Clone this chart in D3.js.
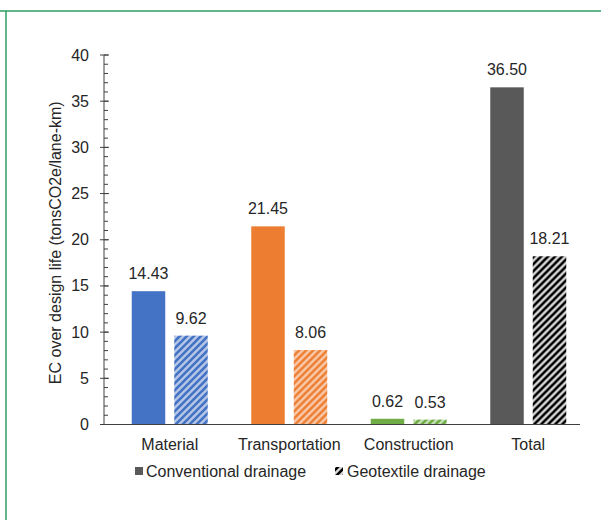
<!DOCTYPE html>
<html>
<head>
<meta charset="utf-8">
<script src="https://cdn.jsdelivr.net/npm/d3@7"></script>
<style>
    body { margin: 0; background: #fff; }
    text { font-family: "Liberation Sans", Arial, sans-serif; fill: #262626; }
</style>
</head>
<body>
<div id="chartDiv"></div>
<script>
"use strict";

// chart data
var categories = ["Material", "Transportation", "Construction", "Total"];
var seriesNames = ["Conventional drainage", "Geotextile drainage"];
var conventional = [14.43, 21.45, 0.62, 36.50];
var geotextile = [9.62, 8.06, 0.53, 18.21];
var yTicks = [0, 5, 10, 15, 20, 25, 30, 35, 40];

// colours per category: solid colour, light hatch background
var solidColors = ["#4472c4", "#ed7d31", "#70ad47", "#595959"];
var lightColors = ["#b4c7e7", "#f8cbad", "#c5e0b4", "#d9d9d9"];
var stripeColors = ["#4472c4", "#ed7d31", "#70ad47", "#000000"];

// svg parameters
var svgWidth = 601;
var svgHeight = 520;
var fontSize = 16;

var svg = d3.select("#chartDiv").append("svg")
    .attr("width", svgWidth).attr("height", svgHeight);

// green frame lines
svg.append("line").attr("x1", 0).attr("x2", svgWidth).attr("y1", 11).attr("y2", 11)
    .attr("stroke", "#2f9e62").attr("stroke-width", 1.5);
svg.append("line").attr("x1", 6).attr("x2", 6).attr("y1", 11).attr("y2", svgHeight)
    .attr("stroke", "#2f9e62").attr("stroke-width", 1.5);

// hatch patterns
var defs = svg.append("defs");
stripeColors.forEach(function (c, i) {
    var p = defs.append("pattern").attr("id", "hatch" + i)
        .attr("patternUnits", "userSpaceOnUse").attr("width", 7).attr("height", 7);
    p.append("rect").attr("width", 7).attr("height", 7).attr("fill", lightColors[i]);
    p.append("path").attr("d", "M-1,8 L8,-1 M-2,2 L2,-2 M5,9 L9,5")
        .attr("stroke", c).attr("stroke-width", 2.6).attr("stroke-linecap", "square");
});

// scales
var x = d3.scaleBand().domain(categories).range([110, 588]);
var bw = x.bandwidth();
var xSub = d3.scaleBand().domain(seriesNames).range([bw / 2 - 38, bw / 2 + 38]).paddingInner(0.212);
var y = d3.scaleLinear().domain([0, 40]).range([424.5, 55]);

var axisX0 = 104, axisX1 = 580;

// y axis: minor ticks (inside), major ticks (cross)
var yAxis = svg.append("g").attr("class", "yaxis");
yAxis.selectAll("line.minor").data(d3.range(0, 41)).enter()
    .append("line").attr("class", "minor")
    .attr("x1", axisX0).attr("x2", axisX0 + 4)
    .attr("y1", function (d) { return y(d); }).attr("y2", function (d) { return y(d); })
    .attr("stroke", "#404040").attr("stroke-width", 1);
yAxis.selectAll("line.major").data(yTicks).enter()
    .append("line").attr("class", "major")
    .attr("x1", axisX0 - 4).attr("x2", axisX0 + 5)
    .attr("y1", function (d) { return y(d); }).attr("y2", function (d) { return y(d); })
    .attr("stroke", "#404040").attr("stroke-width", 1);
yAxis.selectAll("text").data(yTicks).enter()
    .append("text")
    .attr("x", 89).attr("y", function (d) { return y(d) + 5.5; })
    .attr("text-anchor", "end").attr("font-size", fontSize)
    .text(function (d) { return d; });
yAxis.append("line").attr("x1", axisX0).attr("x2", axisX0)
    .attr("y1", y(40)).attr("y2", y(0)).attr("stroke", "#404040").attr("stroke-width", 1);

// y axis title
svg.append("text")
    .attr("transform", "translate(61," + ((y(0) + y(40)) / 2 + 3) + ") rotate(-90)")
    .attr("text-anchor", "middle").attr("font-size", fontSize)
    .text("EC over design life (tonsCO2e/lane-km)");

// bars
var groups = svg.append("g").selectAll("g").data(categories).enter()
    .append("g").attr("transform", function (d) { return "translate(" + x(d) + ",0)"; });

groups.append("rect")
    .attr("x", xSub(seriesNames[0])).attr("width", xSub.bandwidth())
    .attr("y", function (d, i) { return y(conventional[i]); })
    .attr("height", function (d, i) { return y(0) - y(conventional[i]); })
    .attr("fill", function (d, i) { return solidColors[i]; });

groups.append("rect")
    .attr("x", xSub(seriesNames[1])).attr("width", xSub.bandwidth())
    .attr("y", function (d, i) { return y(geotextile[i]); })
    .attr("height", function (d, i) { return y(0) - y(geotextile[i]); })
    .attr("fill", function (d, i) { return "url(#hatch" + i + ")"; });

// value labels
groups.append("text")
    .attr("x", xSub(seriesNames[0]) + xSub.bandwidth() / 2)
    .attr("y", function (d, i) { return y(conventional[i]) - 12; })
    .attr("text-anchor", "middle").attr("font-size", fontSize)
    .text(function (d, i) { return conventional[i].toFixed(2); });

groups.append("text")
    .attr("x", xSub(seriesNames[1]) + xSub.bandwidth() / 2)
    .attr("y", function (d, i) { return y(geotextile[i]) - 12; })
    .attr("text-anchor", "middle").attr("font-size", fontSize)
    .text(function (d, i) { return geotextile[i].toFixed(2); });

// baseline
svg.append("line").attr("x1", axisX0).attr("x2", axisX1)
    .attr("y1", y(0)).attr("y2", y(0)).attr("stroke", "#404040").attr("stroke-width", 1.2);

// category labels
svg.append("g").selectAll("text").data(categories).enter()
    .append("text")
    .attr("x", function (d) { return x(d) + bw / 2; })
    .attr("y", 450)
    .attr("text-anchor", "middle").attr("font-size", fontSize)
    .text(function (d) { return d; });

// legend
var legend = svg.append("g");
legend.append("rect").attr("x", 135).attr("y", 467).attr("width", 8).attr("height", 8).attr("fill", "#595959");
legend.append("text").attr("x", 146).attr("y", 477).attr("font-size", fontSize).text(seriesNames[0]);
legend.append("rect").attr("x", 335).attr("y", 467).attr("width", 8).attr("height", 8).attr("fill", "url(#hatch3)");
legend.append("text").attr("x", 347).attr("y", 477).attr("font-size", fontSize).text(seriesNames[1]);
</script>
</body>
</html>
